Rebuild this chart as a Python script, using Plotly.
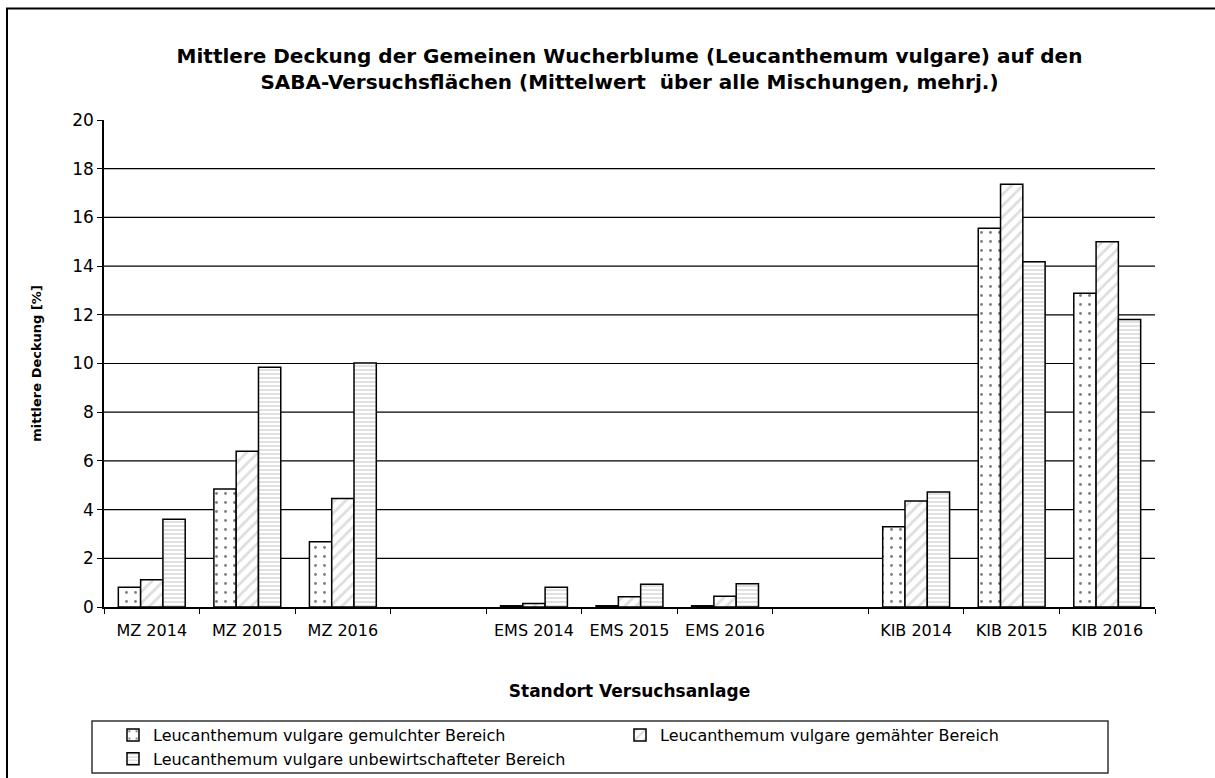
import plotly.graph_objects as go

# ---- data ----
axis_categories = ["MZ 2014", "MZ 2015", "MZ 2016", " ",
                   "EMS 2014", "EMS 2015", "EMS 2016", "  ",
                   "KIB 2014", "KIB 2015", "KIB 2016"]
sites = ["MZ 2014", "MZ 2015", "MZ 2016",
         "EMS 2014", "EMS 2015", "EMS 2016",
         "KIB 2014", "KIB 2015", "KIB 2016"]
gemulcht = [0.81, 4.85, 2.68, 0.05, 0.05, 0.05, 3.30, 15.55, 12.88]
gemaeht = [1.12, 6.40, 4.46, 0.14, 0.42, 0.44, 4.35, 17.36, 15.00]
unbewirtschaftet = [3.60, 9.85, 10.02, 0.81, 0.93, 0.95, 4.72, 14.18, 11.81]
series_names = ["Leucanthemum vulgare gemulchter Bereich",
                "Leucanthemum vulgare gemähter Bereich",
                "Leucanthemum vulgare unbewirtschafteter Bereich"]
y_ticks = [0, 2, 4, 6, 8, 10, 12, 14, 16, 18, 20]
grid_values = [2, 4, 6, 8, 10, 12, 14, 16, 18]

title_text = ("Mittlere Deckung der Gemeinen Wucherblume (Leucanthemum vulgare) auf den<br>"
              "SABA-Versuchsflächen (Mittelwert  über alle Mischungen, mehrj.)")

FONT = "DejaVu Sans, Liberation Sans, Arial, sans-serif"
W, H = 1215, 778
ML, MR, MT, MB = 104, 60, 120, 171
PW, PH = W - ML - MR, H - MT - MB


def px_to_paper_y(py):
    return (MT + PH - py) / PH


def px_to_paper_x(px):
    return (px - ML) / PW


patterns = [
    dict(shape=".", fgcolor="black", bgcolor="white", size=9, solidity=0.08, fillmode="overlay"),
    dict(shape="/", fgcolor="#bdbdbd", bgcolor="white", size=8, solidity=0.35, fillmode="overlay"),
    dict(shape="-", fgcolor="#c4c4c4", bgcolor="white", size=4, solidity=0.5, fillmode="overlay"),
]

fig = go.Figure()
for name, vals, pat in zip(series_names, [gemulcht, gemaeht, unbewirtschaftet], patterns):
    fig.add_trace(go.Bar(
        x=sites, y=vals, name=name,
        marker=dict(color="white", pattern=pat, line=dict(color="black", width=1.5)),
    ))

shapes = []
for g in grid_values:
    shapes.append(dict(type="line", xref="paper", yref="y", x0=0, x1=1, y0=g, y1=g,
                       line=dict(color="black", width=1.2), layer="below"))
# outer chart border
shapes.append(dict(type="rect", xref="paper", yref="paper",
                   x0=px_to_paper_x(7), x1=px_to_paper_x(1240),
                   y0=px_to_paper_y(800), y1=px_to_paper_y(8.5),
                   line=dict(color="black", width=2), fillcolor="rgba(0,0,0,0)", layer="below"))
# legend box
shapes.append(dict(type="rect", xref="paper", yref="paper",
                   x0=px_to_paper_x(92), x1=px_to_paper_x(1108),
                   y0=px_to_paper_y(773), y1=px_to_paper_y(721),
                   line=dict(color="#333333", width=1.5), fillcolor="rgba(0,0,0,0)", layer="below"))

fig.update_layout(
    width=W, height=H,
    margin=dict(l=ML, r=MR, t=MT, b=MB, autoexpand=False),
    paper_bgcolor="white", plot_bgcolor="white",
    font=dict(family=FONT, color="black", size=15),
    title=dict(text=title_text, x=0.5, xref="paper", y=1 - 63 / H, yanchor="middle",
               font=dict(family=FONT, size=20, color="black", weight="bold")),
    barmode="group", bargap=0.3, bargroupgap=0,
    showlegend=True,
    legend=dict(orientation="h", x=px_to_paper_x(113), xanchor="left",
                y=px_to_paper_y(718), yanchor="top",
                entrywidth=462, entrywidthmode="pixels",
                font=dict(family=FONT, size=16, color="black"),
                itemwidth=30, bgcolor="rgba(0,0,0,0)", traceorder="normal"),
    shapes=shapes,
)
fig.update_xaxes(
    type="category", categoryorder="array", categoryarray=axis_categories,
    range=[-0.5, len(axis_categories) - 0.5], automargin=False,
    showline=True, linecolor="black", linewidth=1.5,
    ticks="outside", tickson="boundaries", ticklen=5, tickcolor="black",
    tickfont=dict(family=FONT, size=16), ticklabelstandoff=8,
    showgrid=False,
    title=dict(text="<b>Standort Versuchsanlage</b>", font=dict(family=FONT, size=17), standoff=46),
)
fig.update_yaxes(
    range=[0, 20], tickvals=y_ticks, automargin=False,
    showline=True, linecolor="black", linewidth=1.5,
    ticks="outside", ticklen=5, tickcolor="black",
    tickfont=dict(family=FONT, size=17),
    showgrid=False, zeroline=False,
    title=dict(text="<b>mittlere Deckung [%]</b>", font=dict(family=FONT, size=13), standoff=28),
)

fig.write_html("out.html", config={"displayModeBar": False},
               post_script="document.body.style.margin='0px';")
